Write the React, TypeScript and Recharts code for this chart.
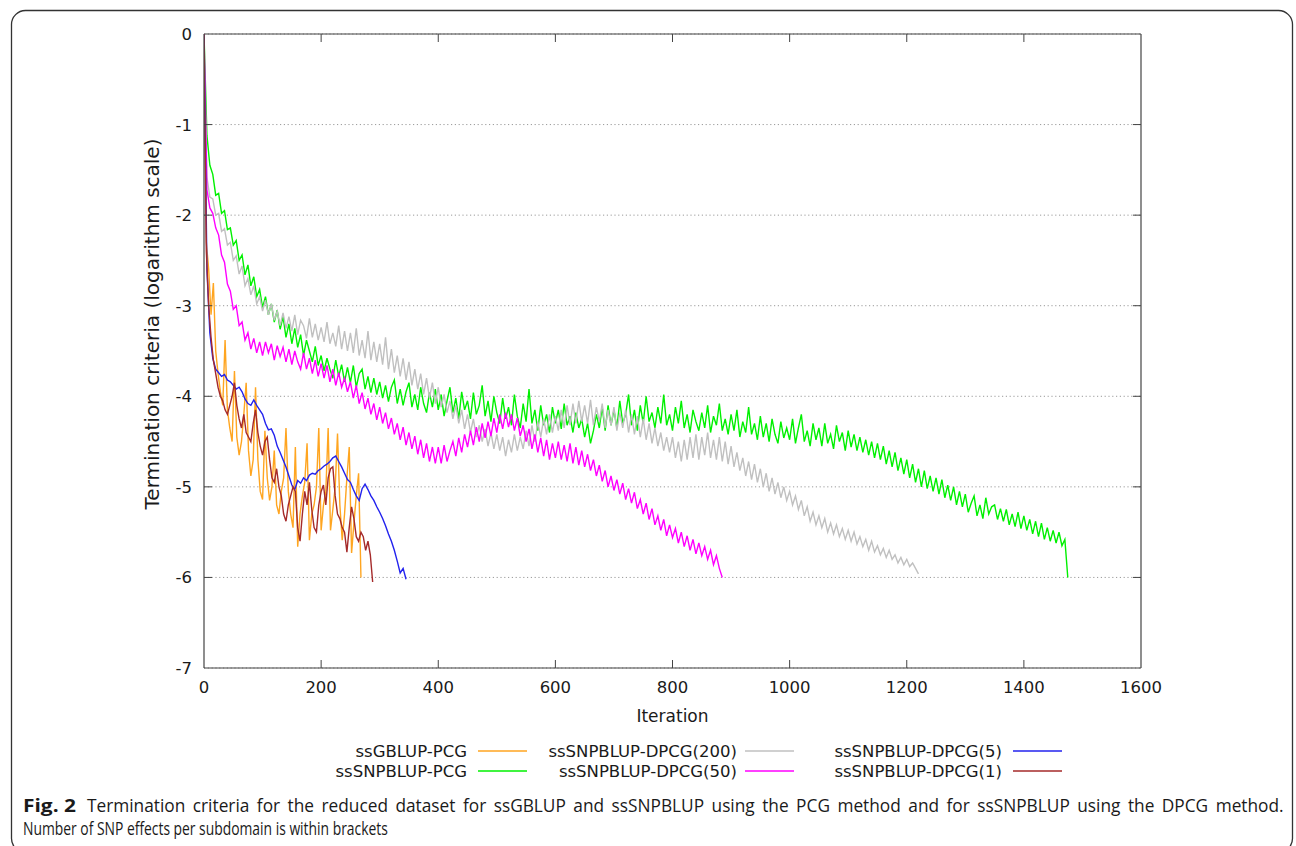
import React, { useLayoutEffect, useRef, useState } from 'react';
import { LineChart, Line, XAxis, YAxis, CartesianGrid, ReferenceLine } from 'recharts';

// ---------- data ----------
const seriesNames = [
  'ssGBLUP-PCG',
  'ssSNPBLUP-PCG',
  'ssSNPBLUP-DPCG(200)',
  'ssSNPBLUP-DPCG(50)',
  'ssSNPBLUP-DPCG(5)',
  'ssSNPBLUP-DPCG(1)',
];
const seriesColors = ['#ffa520', '#00f000', '#c0c0c0', '#ff00ff', '#2222ee', '#a52a2a'];
// iteration spacing between consecutive stored values of each series
const seriesSteps = [4, 5, 5, 5, 5, 4];

const xTicks = [0, 200, 400, 600, 800, 1000, 1200, 1400, 1600];
const yTicks = [0, -1, -2, -3, -4, -5, -6, -7];

const orangeVals = [
  0, -2.3, -2.6, -3.1, -2.75, -3.5, -3.75, -3.95, -4.1, -3.38,
  -4.15, -4.35, -4.5, -3.72, -4.45, -4.65, -4.5, -4.2, -3.85, -4.6,
  -4.88, -4.7, -3.9, -4.7, -5.05, -5.14, -4.38, -4.9, -5.15, -5.0,
  -4.6, -5.2, -5.3, -5.05, -4.9, -4.35, -5.05, -5.3, -5.45, -4.56,
  -5.66, -5.3, -5.1, -4.95, -4.52, -5.59, -5.3, -5.2, -5.0, -4.35,
  -5.48, -5.2, -5.05, -4.35, -5.48, -5.25, -5.0, -4.41, -5.2, -5.59,
  -5.3, -4.9, -4.56, -5.73, -5.4, -5.1, -4.85, -6.0,
];

const greenVals = [
  0, -1.12, -1.45, -1.55, -1.78, -1.76, -1.98, -1.95, -2.16, -2.14,
  -2.33, -2.28, -2.5, -2.44, -2.66, -2.55, -2.78, -2.68, -2.9, -2.82,
  -3.02, -2.9, -3.1, -2.98, -3.18, -3.05, -3.26, -3.12, -3.35, -3.2,
  -3.42, -3.25, -3.46, -3.32, -3.55, -3.38, -3.5, -3.62, -3.45, -3.66,
  -3.55, -3.72, -3.58, -3.7, -3.8, -3.6, -3.78, -3.65, -3.84, -3.68,
  -3.85, -3.66, -3.9, -3.75, -3.7, -3.92, -3.78, -3.96, -3.8, -3.98,
  -3.84, -4.02, -3.88, -4.06, -3.9, -3.82, -4.08, -3.92, -4.1, -3.95,
  -3.85, -4.12, -3.98, -4.15, -3.9, -4.08, -4.18, -3.96, -4.12, -3.92,
  -4.15, -3.98, -4.22, -4.05, -3.9, -4.18, -4.02, -4.25, -3.95, -4.15,
  -4.05, -4.25, -3.96, -4.2, -4.1, -3.88, -4.22, -4.05, -4.28, -4.0,
  -4.18, -4.3, -4.02, -4.25, -4.12, -4.32, -3.98, -4.22, -4.35, -4.08,
  -4.28, -3.92, -4.3, -4.15, -4.38, -4.1, -4.32, -4.2, -4.4, -4.12,
  -4.3, -4.15, -4.36, -4.08, -4.32, -4.22, -4.4, -4.18, -4.35, -4.25,
  -4.45, -4.3, -4.52, -4.38, -4.2, -4.35, -4.12, -4.38, -4.1, -4.32,
  -4.15, -4.35, -4.05, -4.3, -4.2, -3.98, -4.32, -4.15, -4.38, -4.1,
  -4.3, -4.0, -4.28, -4.18, -4.35, -4.12, -4.3, -3.98, -4.32, -4.2,
  -4.38, -4.12, -4.3, -4.05, -4.35, -4.2, -4.4, -4.15, -4.28, -4.38,
  -4.18, -4.35, -4.1, -4.4, -4.22, -4.32, -4.08, -4.38, -4.25, -4.42,
  -4.2, -4.38, -4.15, -4.45, -4.28, -4.4, -4.12, -4.42, -4.3, -4.48,
  -4.22, -4.45, -4.3, -4.5, -4.25, -4.42, -4.52, -4.28, -4.46, -4.35,
  -4.48, -4.25, -4.52, -4.35, -4.2, -4.5, -4.38, -4.55, -4.3, -4.48,
  -4.35, -4.55, -4.3, -4.52, -4.42, -4.58, -4.32, -4.5, -4.4, -4.6,
  -4.38, -4.56, -4.42, -4.6, -4.45, -4.62, -4.48, -4.65, -4.5, -4.68,
  -4.52, -4.7, -4.55, -4.75, -4.6, -4.78, -4.62, -4.82, -4.68, -4.86,
  -4.7, -4.9, -4.75, -4.95, -4.8, -5.0, -4.82, -5.02, -4.88, -5.05,
  -4.9, -5.08, -4.92, -5.12, -4.98, -5.15, -5.0, -5.2, -5.05, -5.22,
  -5.08, -5.28, -5.18, -5.1, -5.32, -5.2, -5.35, -5.12, -5.3, -5.22,
  -5.2, -5.36, -5.24, -5.38, -5.25, -5.42, -5.3, -5.44, -5.28, -5.46,
  -5.32, -5.48, -5.36, -5.52, -5.38, -5.55, -5.4, -5.58, -5.45, -5.6,
  -5.48, -5.62, -5.5, -5.65, -5.58, -6.0,
];

const greyVals = [
  0, -1.58, -1.8, -1.82, -2.0, -1.98, -2.18, -2.15, -2.33, -2.3,
  -2.5, -2.45, -2.65, -2.56, -2.78, -2.7, -2.88, -2.78, -2.98, -2.9,
  -3.06, -2.94, -3.1, -2.98, -3.16, -3.06, -3.22, -3.08, -3.25, -3.12,
  -3.28, -3.1, -3.32, -3.16, -3.22, -3.36, -3.14, -3.35, -3.2, -3.38,
  -3.24, -3.4, -3.18, -3.42, -3.3, -3.45, -3.22, -3.48, -3.28, -3.5,
  -3.3, -3.52, -3.25, -3.55, -3.38, -3.58, -3.28, -3.6, -3.4, -3.62,
  -3.42, -3.65, -3.35, -3.7, -3.48, -3.74, -3.55, -3.78, -3.58, -3.82,
  -3.62, -3.88, -3.7, -3.92, -3.75, -3.98, -3.8, -4.02, -3.85, -4.08,
  -3.9, -4.12, -3.98, -4.18, -4.05, -4.25, -4.1, -4.3, -4.15, -4.36,
  -4.2, -4.4, -4.25, -4.45, -4.32, -4.5, -4.36, -4.55, -4.4, -4.58,
  -4.42, -4.6, -4.45, -4.66, -4.48, -4.62, -4.42, -4.6, -4.45, -4.58,
  -4.38, -4.55, -4.32, -4.5, -4.28, -4.45, -4.25, -4.42, -4.2, -4.4,
  -4.22, -4.38, -4.15, -4.35, -4.1, -4.32, -4.08, -4.3, -4.05, -4.28,
  -4.1, -4.3, -4.04, -4.32, -4.12, -4.28, -4.08, -4.35, -4.15, -4.32,
  -4.12, -4.38, -4.18, -4.35, -4.15, -4.4, -4.2, -4.42, -4.22, -4.45,
  -4.25, -4.48, -4.3, -4.52, -4.35, -4.55, -4.4, -4.6, -4.45, -4.62,
  -4.45, -4.68, -4.5, -4.72, -4.48, -4.7, -4.45, -4.68, -4.42, -4.7,
  -4.45, -4.65, -4.4, -4.68, -4.48, -4.7, -4.45, -4.72, -4.5, -4.75,
  -4.55, -4.78, -4.62, -4.82, -4.68, -4.88, -4.72, -4.92, -4.75, -4.95,
  -4.8, -5.0, -4.85, -5.05, -4.9, -5.08, -4.95, -5.12, -5.0, -5.15,
  -5.05, -5.2, -5.1, -5.25, -5.15, -5.32, -5.22, -5.38, -5.28, -5.42,
  -5.32, -5.45, -5.35, -5.5, -5.4, -5.52, -5.42, -5.55, -5.46, -5.58,
  -5.48, -5.6, -5.5, -5.63, -5.55, -5.66, -5.58, -5.7, -5.6, -5.72,
  -5.65, -5.75, -5.68, -5.78, -5.7, -5.8, -5.75, -5.84, -5.78, -5.86,
  -5.8, -5.88, -5.84, -5.9, -5.96,
];

const magentaVals = [
  0, -1.72, -1.92, -1.98, -2.14, -2.22, -2.44, -2.52, -2.76, -2.84,
  -3.04, -3.0, -3.22, -3.18, -3.38, -3.3, -3.48, -3.36, -3.52, -3.4,
  -3.55, -3.4, -3.52, -3.42, -3.6, -3.44, -3.56, -3.46, -3.62, -3.48,
  -3.65, -3.5, -3.62, -3.7, -3.52, -3.7, -3.58, -3.75, -3.6, -3.78,
  -3.64, -3.8, -3.66, -3.84, -3.7, -3.88, -3.74, -3.9, -3.8, -3.95,
  -3.84, -4.02, -3.88, -4.08, -3.96, -4.14, -4.02, -4.2, -4.08, -4.26,
  -4.12, -4.3, -4.18, -4.36, -4.24, -4.42, -4.3, -4.48, -4.34, -4.54,
  -4.4, -4.58, -4.44, -4.64, -4.48, -4.68, -4.52, -4.72, -4.56, -4.74,
  -4.56, -4.74, -4.54, -4.72, -4.6, -4.5, -4.66, -4.46, -4.62, -4.42,
  -4.56, -4.38, -4.54, -4.34, -4.5, -4.3, -4.46, -4.28, -4.44, -4.24,
  -4.4, -4.2, -4.36, -4.18, -4.34, -4.2, -4.38, -4.24, -4.44, -4.32,
  -4.5, -4.36, -4.58, -4.42, -4.62, -4.46, -4.66, -4.48, -4.7, -4.52,
  -4.68, -4.5, -4.7, -4.54, -4.72, -4.52, -4.74, -4.56, -4.76, -4.6,
  -4.78, -4.64, -4.82, -4.7, -4.88, -4.76, -4.94, -4.82, -5.0, -4.88,
  -5.04, -4.92, -5.08, -4.96, -5.14, -5.02, -5.18, -5.06, -5.24, -5.14,
  -5.3, -5.18, -5.36, -5.24, -5.42, -5.32, -5.48, -5.36, -5.54, -5.42,
  -5.56, -5.46, -5.62, -5.5, -5.66, -5.54, -5.7, -5.58, -5.74, -5.62,
  -5.76, -5.66, -5.8, -5.7, -5.86, -5.76, -5.9, -6.0,
];

const blueVals = [
  0, -2.6, -3.3, -3.58, -3.7, -3.74, -3.78, -3.76, -3.82, -3.84,
  -3.88, -3.92, -3.9, -3.95, -4.03, -4.08, -4.1, -4.04, -4.1, -4.15,
  -4.2, -4.3, -4.37, -4.36, -4.43, -4.55, -4.62, -4.7, -4.78, -4.88,
  -4.98, -5.03, -4.93, -4.96, -4.9, -4.93, -4.87, -4.85, -4.86, -4.82,
  -4.8, -4.77, -4.75, -4.72, -4.68, -4.66, -4.72, -4.78, -4.85, -4.92,
  -4.95, -5.03, -5.1, -5.15, -5.02, -4.97, -5.03, -5.1, -5.15, -5.22,
  -5.28, -5.35, -5.43, -5.52, -5.6, -5.7, -5.82, -5.95, -5.9, -6.02,
];

const brownVals = [
  0, -2.4, -3.0, -3.35, -3.6, -3.75, -3.9, -4.0, -4.05, -4.15,
  -4.2, -4.1, -4.0, -3.85, -4.1, -4.25, -4.35, -4.2, -4.4, -4.45,
  -4.5, -4.3, -4.15, -4.4, -4.55, -4.65, -4.5, -4.45, -4.7, -4.9,
  -4.95, -4.8, -5.0, -5.1, -5.3, -5.38, -5.2, -5.1, -5.0, -5.05,
  -5.45, -5.6, -5.3, -5.05, -5.2, -4.95, -5.25, -5.45, -5.5, -5.2,
  -5.05, -4.98, -5.2, -4.9, -4.8, -4.78, -5.1, -5.3, -5.35, -5.45,
  -5.5, -5.72, -5.45, -5.22, -5.35, -5.55, -5.6, -5.5, -5.55, -5.7,
  -5.6, -5.75, -6.05,
];

const seriesValues = [orangeVals, greenVals, greyVals, magentaVals, blueVals, brownVals];

const captionBold = 'Fig. 2';
const captionLine1 =
  'Termination criteria for the reduced dataset for ssGBLUP and ssSNPBLUP using the PCG method and for ssSNPBLUP using the DPCG method.';
const captionLine2 = 'Number of SNP effects per subdomain is within brackets';
const xLabel = 'Iteration';
const yLabel = 'Termination criteria (logarithm scale)';

// ---------- styling ----------
const FONT = '"DejaVu Sans", Verdana, sans-serif';
const CAP_FONT = '"Open Sans", "Noto Sans", sans-serif';
const CAP_SIZE = 17.5;
const AXIS = '#444';
const TXT = '#1a1a1a';
const X_MAX = 1600;
const Y_MIN = -7;
const Y_MAX = 0;
const TICK_LEN = 8;

const BottomTick = (p: any) => {
  const { x, y, payload } = p;
  const v = payload.value;
  return (
    <g>
      {v > 0 && v < X_MAX && <line x1={x} x2={x} y1={y} y2={y - TICK_LEN} stroke={AXIS} strokeWidth={1} />}
      <text x={x} y={y + 25} textAnchor="middle" fontSize={16.5} fontFamily={FONT} fill={TXT}>
        {v}
      </text>
    </g>
  );
};

const LeftTick = (p: any) => {
  const { x, y, payload } = p;
  const v = payload.value;
  return (
    <g>
      {v < Y_MAX && v > Y_MIN && <line x1={x} x2={x + TICK_LEN} y1={y} y2={y} stroke={AXIS} strokeWidth={1} />}
      <text x={x - 12} y={y + 6} textAnchor="end" fontSize={16.5} fontFamily={FONT} fill={TXT}>
        {v}
      </text>
    </g>
  );
};

// mirrored inward tick at the top edge, drawn from a vertical reference line's geometry
const TopTickShape = (p: any) => {
  const top = Math.min(p.y1, p.y2);
  return <line x1={p.x1} x2={p.x1} y1={top} y2={top + TICK_LEN} stroke={AXIS} strokeWidth={1} />;
};
// mirrored inward tick at the right edge, drawn from a horizontal reference line's geometry
const RightTickShape = (p: any) => {
  const right = Math.max(p.x1, p.x2);
  return <line x1={right} x2={right - TICK_LEN} y1={p.y1} y2={p.y1} stroke={AXIS} strokeWidth={1} />;
};

export default function App() {
  const series = seriesNames.map((name, i) => ({
    name,
    color: seriesColors[i],
    points: seriesValues[i].map((v, k) => ({ x: k * seriesSteps[i], y: v })),
  }));

  const m1 = useRef<SVGTextElement>(null);
  const m2 = useRef<SVGTextElement>(null);
  const [cap, setCap] = useState({ s1: 0.9, s2: 0.8, ws: 3 });
  useLayoutEffect(() => {
    const w1 = m1.current ? m1.current.getComputedTextLength() : 0;
    const w2 = m2.current ? m2.current.getComputedTextLength() : 0;
    if (w1 > 0 && w2 > 0) {
      const nSp = captionLine1.split(' ').length - 1;
      const extra = 3;
      const s1 = (1198 - nSp * extra) / w1;
      setCap({ s1, s2: 365 / w2, ws: extra / s1 });
    }
  }, []);

  const legendTextRight = [467, 737, 1002];
  const legendLineStart = [478, 745, 1013];
  const legendRowBase = [757, 777];

  return (
    <div style={{ position: 'absolute', left: 0, top: 0, width: 1296, height: 846, background: '#fff', overflow: 'hidden' }}>
      <div style={{ position: 'absolute', left: 0, top: 0 }}>
        <LineChart width={1296} height={720} margin={{ top: 34, right: 155, bottom: 22, left: 144 }}>
          <CartesianGrid vertical={false} stroke="#9a9a9a" strokeDasharray="1.2 2.6" strokeWidth={1} />
          <XAxis
            dataKey="x"
            type="number"
            domain={[0, X_MAX]}
            ticks={xTicks}
            interval={0}
            height={30}
            tickSize={0}
            tickMargin={0}
            tick={<BottomTick />}
            axisLine={{ stroke: AXIS, strokeWidth: 1.2 }}
            tickLine={false}
            allowDataOverflow
          />
          <YAxis
            type="number"
            domain={[Y_MIN, Y_MAX]}
            ticks={yTicks}
            interval={0}
            width={60}
            tickSize={0}
            tickMargin={0}
            tick={<LeftTick />}
            axisLine={{ stroke: AXIS, strokeWidth: 1.2 }}
            tickLine={false}
            allowDataOverflow
          />
          <ReferenceLine y={Y_MAX} stroke={AXIS} strokeWidth={1.2} />
          <ReferenceLine x={X_MAX} stroke={AXIS} strokeWidth={1.2} />
          {xTicks
            .filter((t) => t > 0 && t < X_MAX)
            .map((t) => (
              <ReferenceLine key={`tt${t}`} x={t} stroke={AXIS} shape={TopTickShape} />
            ))}
          {yTicks
            .filter((t) => t < Y_MAX && t > Y_MIN)
            .map((t) => (
              <ReferenceLine key={`rt${t}`} y={t} stroke={AXIS} shape={RightTickShape} />
            ))}
          {series.map((s) => (
            <Line
              key={s.name}
              data={s.points}
              dataKey="y"
              name={s.name}
              type="linear"
              stroke={s.color}
              strokeWidth={1.4}
              dot={false}
              activeDot={false}
              isAnimationActive={false}
            />
          ))}
        </LineChart>
      </div>
      <svg width={1296} height={846} style={{ position: 'absolute', left: 0, top: 0, pointerEvents: 'none' }}>
        <rect x={11.5} y={10.5} width={1281} height={842} rx={14} ry={14} fill="none" stroke="#333" strokeWidth={1.3} />
        <text
          x={152}
          y={324}
          transform="rotate(-90 152 324)"
          textAnchor="middle"
          dominantBaseline="central"
          fontSize={20}
          fontFamily={FONT}
          fill={TXT}
        >
          {yLabel}
        </text>
        <text x={672.5} y={722} textAnchor="middle" fontSize={17} fontFamily={FONT} fill={TXT}>
          {xLabel}
        </text>
        {series.map((s, i) => {
          const col = Math.floor(i / 2);
          const row = i % 2;
          const by = legendRowBase[row];
          return (
            <g key={s.name}>
              <text x={legendTextRight[col]} y={by} textAnchor="end" fontSize={16.5} fontFamily={FONT} fill={TXT}>
                {s.name}
              </text>
              <line
                x1={legendLineStart[col]}
                x2={legendLineStart[col] + 49}
                y1={by - 6}
                y2={by - 6}
                stroke={s.color}
                strokeWidth={1.6}
              />
            </g>
          );
        })}
        <g visibility="hidden">
          <text ref={m1} x={0} y={-50} fontSize={CAP_SIZE} fontFamily={CAP_FONT}>
            {captionLine1}
          </text>
          <text ref={m2} x={0} y={-80} fontSize={CAP_SIZE} fontFamily={CAP_FONT}>
            {captionLine2}
          </text>
        </g>
        <text
          x={23}
          y={812}
          fontSize={CAP_SIZE}
          fontFamily={CAP_FONT}
          fontWeight={700}
          fill={TXT}
          textLength={53}
          lengthAdjust="spacingAndGlyphs"
        >
          {captionBold}
        </text>
        <g transform={`translate(87 812) scale(${cap.s1} 1)`}>
          <text x={0} y={0} fontSize={CAP_SIZE} fontFamily={CAP_FONT} fill={TXT} style={{ wordSpacing: `${cap.ws}px` }}>
            {captionLine1}
          </text>
        </g>
        <g transform={`translate(23 835) scale(${cap.s2} 1)`}>
          <text x={0} y={0} fontSize={CAP_SIZE} fontFamily={CAP_FONT} fill={TXT}>
            {captionLine2}
          </text>
        </g>
      </svg>
    </div>
  );
}
